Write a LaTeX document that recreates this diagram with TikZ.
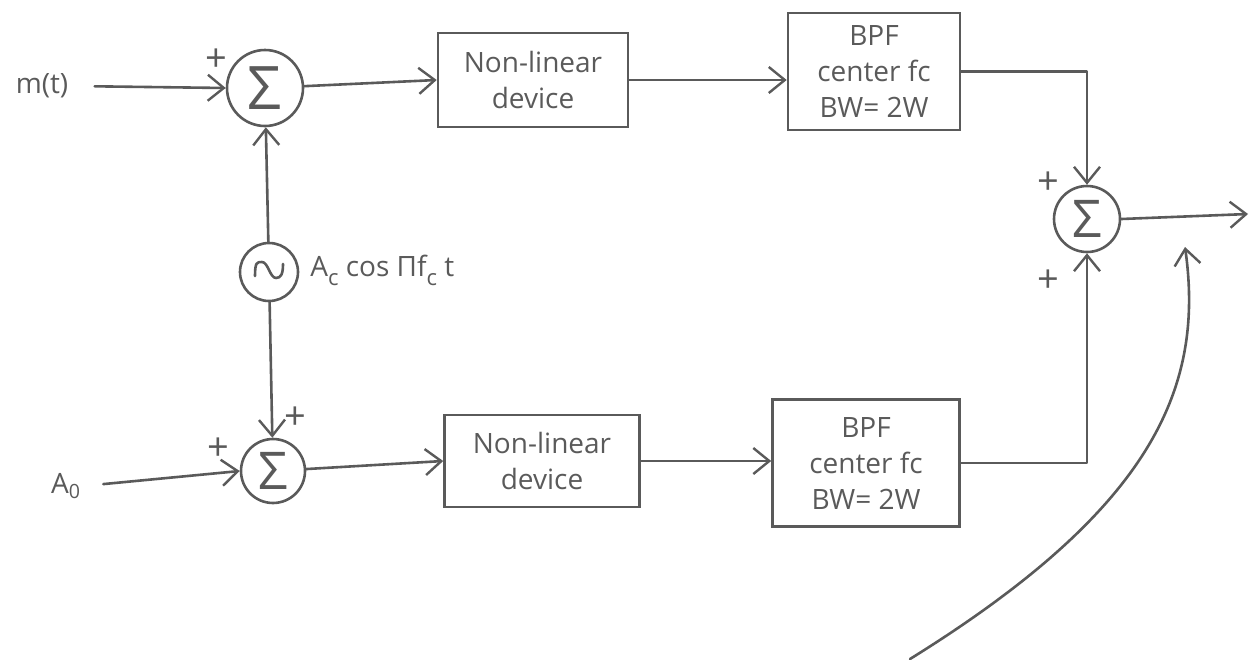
\documentclass[tikz,border=0pt]{standalone}
\usepackage{fontspec}
\setmainfont{Open Sans}
\usetikzlibrary{arrows.meta}
\definecolor{pencil}{HTML}{5A5A5A}
\tikzset{
  every node/.style={text=pencil},
  conn/.style={draw=pencil, line width=1.3pt, line cap=round, line join=round},
  arr/.style={conn, -{Straight Barb[length=8pt,width=13pt,line width=1.2pt]}},
  blk/.style={draw=pencil, line width=1.3pt, align=center, inner sep=0pt, font=\fontsize{14}{18}\selectfont},
  sumnode/.style={draw=pencil, line width=1.3pt, circle, inner sep=0pt},
  lbl/.style={font=\fontsize{14}{16}\selectfont, inner sep=1pt},
  plus/.style={font=\fontsize{19}{20}\selectfont, inner sep=0pt}
}
\begin{document}
\begin{tikzpicture}[x=0.5pt, y=-0.5pt]
\useasboundingbox (0,0) rectangle (1251,659);
% summers and oscillator
\node[sumnode, minimum size=38pt, font=\fontsize{30}{30}\selectfont] (s1) at (265,88) {Σ};
\node[sumnode, minimum size=32pt, font=\fontsize{26}{26}\selectfont] (s2) at (273,471) {Σ};
\node[sumnode, minimum size=33pt, font=\fontsize{26}{26}\selectfont] (s3) at (1087,219) {Σ};
\node[sumnode, minimum size=29pt] (osc) at (269,272) {};
\draw[conn] ([shift={(-14,4)}]osc.center) .. controls ++(0,-14) and ++(-5,0) .. ++(7,-14)
  .. controls ++(6,0) and ++(-6,0) .. ++(14,16)
  .. controls ++(5,0) and ++(0,10) .. ++(7,-14);
% blocks
\node[blk, minimum width=95pt, minimum height=47pt] (nl1) at (533,80) {Non-linear\\device};
\node[blk, minimum width=86pt, minimum height=58.5pt] (bpf1) at (874,71.5) {BPF\\center fc\\BW= 2W};
\node[blk, minimum width=97.5pt, minimum height=46pt] (nl2) at (542,461) {Non-linear\\device};
\node[blk, minimum width=93.5pt, minimum height=63.5pt] (bpf2) at (866,463) {BPF\\center fc\\BW= 2W};
% labels
\node[lbl] (mt) at (42,86) {m(t)};
\node[lbl] (a0) at (66,486) {A\textsubscript{0}};
\node[lbl, anchor=west] (osclbl) at (308,270) {A\raisebox{-0.6ex}{\fontsize{11}{12}\selectfont c} cos Πf\raisebox{-0.6ex}{\fontsize{11}{12}\selectfont c} t};
\node[plus] (p1) at (216,60) {+};
\node[plus] (p2) at (218,449) {+};
\node[plus] (p3) at (295,418) {+};
\node[plus] (p4) at (1048,183) {+};
\node[plus] (p5) at (1048,281) {+};
% connectors
\coordinate (out) at (1248,214);
\coordinate (cb) at (910,659);
\coordinate (ct) at (1185,247);
\draw[arr, shorten <=12pt] (mt.east) -- (s1.west);
\draw[arr] (s1) -- (nl1.west);
\draw[arr] (nl1.east) -- (bpf1.west |- nl1.east);
\draw[arr] (bpf1.east) -| (s3.north);
\draw[arr] (osc) -- (s1);
\draw[arr] (osc) -- (s2);
\draw[arr, shorten <=10pt] (a0.east) -- (s2.west);
\draw[arr] (s2) -- (nl2.west);
\draw[arr] (nl2.east) -- (bpf2.west |- nl2.east);
\draw[arr] (bpf2.east) -| (s3.south);
\draw[arr] (s3.east) -- (out);
\draw[arr] (cb) .. controls (1150,510) and (1205,390) .. (ct);
\end{tikzpicture}
\end{document}
